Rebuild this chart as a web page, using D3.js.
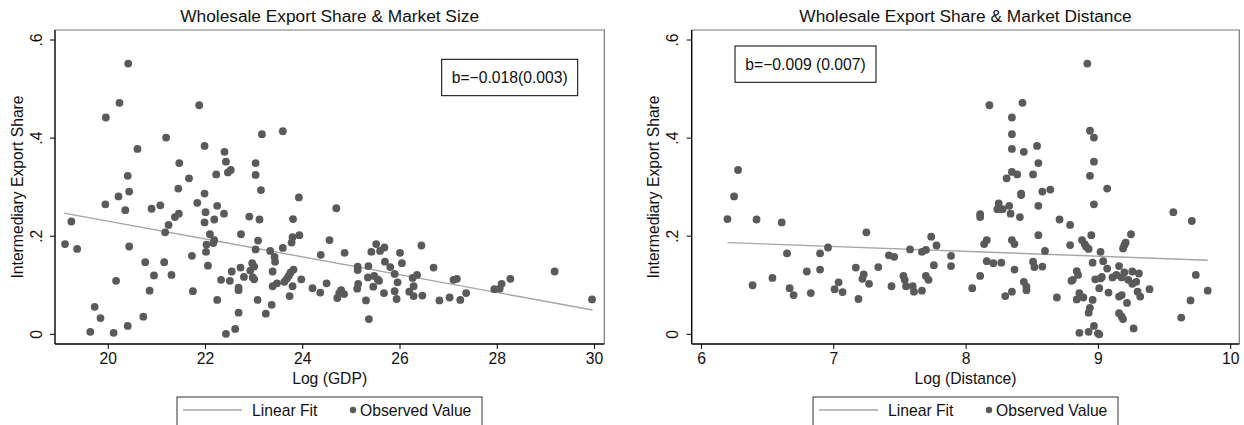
<!DOCTYPE html>
<html>
<head>
<meta charset="utf-8">
<script src="https://cdn.jsdelivr.net/npm/d3@7"></script>
<style>
  body { margin: 0; background: #fff; }
  svg text { font-family: "Liberation Sans", Arial, sans-serif; fill: #111; }
</style>
</head>
<body>
<div id="chart"></div>
<script>
const gdpX = [20.42,20.24,19.96,21.20,20.61,21.88,21.99,21.47,21.67,20.41,20.44,20.22,21.45,21.99,22.40,22.43,22.23,22.47,22.53,23.17,
  23.60,23.04,23.04,23.15,23.93,19.12,19.25,19.37,19.95,20.36,20.44,20.17,19.73,19.85,19.64,20.12,20.41,20.73,20.86,20.77,
  20.95,20.90,21.08,21.16,21.31,21.18,21.25,21.38,21.46,21.73,21.75,21.84,22.01,21.99,22.10,22.03,22.17,22.19,22.02,22.06,
  22.25,22.19,22.39,22.25,22.33,22.51,22.55,22.43,22.62,22.69,22.69,22.69,22.73,22.74,22.80,22.91,22.93,22.97,23.01,22.98,
  23.01,23.08,23.04,23.09,23.12,23.25,23.37,23.34,23.43,23.44,23.39,23.39,23.48,23.60,23.63,23.68,23.72,23.76,23.82,23.74,
  23.80,23.78,23.80,23.81,23.94,23.98,24.21,24.37,24.38,24.70,24.56,24.50,24.72,24.76,24.80,24.86,24.87,25.14,25.14,25.15,
  25.13,25.31,25.37,25.36,25.35,25.48,25.55,25.58,25.46,25.42,25.52,25.60,25.69,25.70,25.81,25.68,25.90,25.96,25.90,25.94,
  26.01,26.05,26.27,26.36,26.29,26.20,26.29,26.47,26.45,26.70,26.82,27.03,27.11,27.18,27.25,27.37,27.95,28.06,28.10,28.28,
  29.19,29.96];
const gdpY = [0.552,0.472,0.442,0.401,0.378,0.467,0.384,0.349,0.318,0.323,0.291,0.281,0.297,0.287,0.372,0.352,0.326,0.330,0.335,0.408,
  0.414,0.349,0.325,0.294,0.279,0.184,0.230,0.174,0.265,0.253,0.179,0.109,0.056,0.033,0.005,0.003,0.017,0.036,0.089,0.147,
  0.120,0.256,0.263,0.147,0.121,0.208,0.223,0.239,0.246,0.160,0.088,0.268,0.249,0.228,0.204,0.183,0.186,0.192,0.168,0.140,
  0.262,0.234,0.246,0.070,0.111,0.109,0.128,0.001,0.011,0.044,0.090,0.095,0.136,0.204,0.117,0.240,0.130,0.145,0.138,0.116,
  0.112,0.070,0.173,0.191,0.234,0.042,0.060,0.170,0.158,0.148,0.128,0.098,0.104,0.176,0.107,0.113,0.119,0.126,0.132,0.078,
  0.098,0.187,0.198,0.235,0.202,0.112,0.094,0.085,0.162,0.257,0.192,0.104,0.074,0.084,0.090,0.082,0.166,0.138,0.131,0.103,
  0.093,0.069,0.031,0.139,0.116,0.119,0.112,0.109,0.097,0.168,0.184,0.170,0.177,0.148,0.137,0.084,0.123,0.106,0.088,0.072,
  0.166,0.145,0.115,0.121,0.098,0.087,0.078,0.079,0.181,0.136,0.069,0.075,0.111,0.113,0.070,0.084,0.092,0.093,0.103,0.113,
  0.128,0.071];

const distX = [6.28,6.25,8.92,8.18,8.43,8.35,8.35,8.94,8.97,8.35,8.44,8.54,8.55,8.97,8.35,8.39,8.31,8.51,8.94,9.07,
  8.42,8.42,8.58,8.64,6.20,6.42,6.61,6.39,6.54,6.65,6.67,6.70,6.80,6.83,6.90,6.90,6.96,7.01,7.04,7.07,
  7.17,7.19,7.23,7.22,7.25,7.27,7.34,7.42,7.46,7.44,7.53,7.54,7.55,7.60,7.61,7.67,7.58,7.67,7.70,7.74,
  7.78,7.76,7.70,7.72,7.89,7.89,8.05,8.11,8.11,8.11,8.14,8.16,8.16,8.21,8.27,8.25,8.24,8.28,8.33,8.34,
  8.41,8.55,8.71,8.79,8.97,8.35,8.37,8.37,8.30,8.35,8.44,8.46,8.46,8.55,8.60,8.51,8.52,8.58,8.69,8.79,
  8.88,8.90,8.91,8.93,8.95,9.02,8.96,8.84,8.85,8.81,8.80,8.86,8.89,8.84,8.93,8.94,8.96,8.86,8.93,8.97,
  9.00,9.01,8.98,9.02,9.03,9.01,9.04,9.07,9.08,9.11,9.14,9.16,9.18,9.20,9.23,9.26,9.29,9.19,9.20,9.21,
  9.25,9.26,9.31,9.30,9.32,9.16,9.18,9.22,9.16,9.18,9.19,9.27,9.39,9.57,9.71,9.63,9.70,9.74,9.83];
const distY = [0.335,0.281,0.552,0.467,0.472,0.442,0.408,0.415,0.401,0.378,0.372,0.384,0.349,0.352,0.331,0.326,0.318,0.326,0.323,0.297,
  0.287,0.284,0.291,0.295,0.235,0.234,0.228,0.100,0.115,0.165,0.094,0.080,0.128,0.084,0.165,0.132,0.177,0.092,0.106,0.086,
  0.136,0.072,0.122,0.113,0.208,0.103,0.137,0.161,0.158,0.098,0.119,0.111,0.098,0.098,0.087,0.089,0.173,0.168,0.172,0.199,
  0.181,0.141,0.119,0.111,0.160,0.139,0.094,0.119,0.245,0.239,0.184,0.192,0.149,0.145,0.146,0.267,0.255,0.255,0.262,0.246,
  0.239,0.262,0.234,0.223,0.265,0.192,0.184,0.132,0.078,0.087,0.107,0.097,0.090,0.202,0.170,0.148,0.137,0.138,0.075,0.182,
  0.192,0.184,0.179,0.174,0.202,0.168,0.146,0.129,0.121,0.111,0.109,0.084,0.075,0.071,0.044,0.054,0.070,0.003,0.005,0.017,
  0.002,0.000,0.112,0.114,0.117,0.094,0.149,0.134,0.085,0.116,0.121,0.139,0.116,0.126,0.111,0.103,0.107,0.175,0.182,0.187,
  0.204,0.128,0.124,0.087,0.077,0.077,0.080,0.064,0.043,0.036,0.031,0.012,0.092,0.249,0.231,0.034,0.069,0.121,0.089];

// fitted lines (end points)
const gdpFit = [[19.1, 0.247], [29.97, 0.0495]];
const distFit = [[6.2, 0.187], [9.83, 0.151]];

const gdpTicks = [20, 22, 24, 26, 28, 30];
const distTicks = [6, 7, 8, 9, 10];
const yTicks = [0, 0.2, 0.4, 0.6];
const yTickLabels = ["0", ".2", ".4", ".6"];

const titles = ["Wholesale Export Share & Market Size", "Wholesale Export Share & Market Distance"];
const xTitles = ["Log (GDP)", "Log (Distance)"];
const yTitle = "Intermediary Export Share";
const notes = ["b=\u22120.018(0.003)", "b=\u22120.009 (0.007)"];

const labelSize = 15.7;
const titleSize = 17.3;

const svg = d3.select("#chart").append("svg")
    .attr("width", 1244)
    .attr("height", 425);

function drawPanel(p) {
    const g = svg.append("g");
    const x = d3.scaleLinear().domain(p.xDomain).range(p.xRange);
    const y = d3.scaleLinear().domain([0, 0.6]).range([334.3, 40]);

    // plot region outline (top / right in grey)
    g.append("path")
        .attr("d", `M${p.left},${p.top}H${p.right}V${p.bottom}`)
        .attr("fill", "none")
        .attr("stroke", "#777")
        .attr("stroke-width", 1.2);

    // axes
    g.append("g")
        .attr("transform", `translate(0,${p.bottom})`)
        .call(d3.axisBottom(x).tickValues(p.ticks).tickSize(5).tickPadding(4).tickFormat(d3.format("d")))
        .call(a => a.select(".domain").attr("d", `M${p.left},0H${p.right}`).attr("stroke", "#000").attr("stroke-width", 1.4))
        .call(a => a.selectAll(".tick line").attr("stroke", "#000"))
        .call(a => a.selectAll(".tick text").attr("font-size", labelSize).attr("fill", "#111")
            .style("font-family", "Liberation Sans, Arial, sans-serif"));

    g.append("line")
        .attr("x1", p.left).attr("x2", p.left)
        .attr("y1", p.top).attr("y2", p.bottom)
        .attr("stroke", "#000").attr("stroke-width", 1.4);

    g.selectAll(".ytick")
        .data(yTicks)
        .enter()
        .append("line")
        .attr("x1", p.left - 5).attr("x2", p.left)
        .attr("y1", d => y(d)).attr("y2", d => y(d))
        .attr("stroke", "#000");

    g.selectAll(".ylab")
        .data(yTicks)
        .enter()
        .append("text")
        .attr("transform", (d) => "translate(" + p.yLabX + "," + y(d) + ") rotate(-90)")
        .attr("text-anchor", "middle")
        .attr("font-size", labelSize)
        .text((d, i) => yTickLabels[i]);

    g.append("text")
        .attr("transform", "translate(" + p.yTitleX + "," + (p.top + p.bottom) / 2 + ") rotate(-90)")
        .attr("text-anchor", "middle")
        .attr("font-size", labelSize)
        .text(yTitle);

    g.append("text")
        .attr("x", (p.left + p.right) / 2)
        .attr("y", 384)
        .attr("text-anchor", "middle")
        .attr("font-size", labelSize)
        .text(p.xTitle);

    g.append("text")
        .attr("x", (p.left + p.right) / 2)
        .attr("y", 22)
        .attr("text-anchor", "middle")
        .attr("font-size", titleSize)
        .text(p.title);

    // fit line
    g.append("path")
        .attr("d", d3.line().x(d => x(d[0])).y(d => y(d[1]))(p.fit))
        .attr("fill", "none")
        .attr("stroke", "#a6a6a6")
        .attr("stroke-width", 1.4);

    // points
    g.selectAll("circle")
        .data(p.xs)
        .enter()
        .append("circle")
        .attr("cx", d => x(d))
        .attr("cy", (d, i) => y(p.ys[i]))
        .attr("r", 3.9)
        .attr("fill", "#5a5a5a");

    // coefficient box
    g.append("rect")
        .attr("x", p.note[0]).attr("y", p.note[1])
        .attr("width", p.note[2]).attr("height", p.note[3])
        .attr("fill", "#fff").attr("stroke", "#000").attr("stroke-width", 1);
    g.append("text")
        .attr("x", p.note[0] + p.note[2] / 2)
        .attr("y", p.note[1] + 24)
        .attr("text-anchor", "middle")
        .attr("font-size", labelSize)
        .text(p.noteText);

    // legend
    const lg = g.append("g").attr("transform", `translate(${p.legendX},397)`);
    lg.append("rect")
        .attr("width", 305).attr("height", 40)
        .attr("fill", "#fff").attr("stroke", "#333").attr("stroke-width", 1);
    lg.append("line")
        .attr("x1", 6).attr("x2", 65).attr("y1", 13).attr("y2", 13)
        .attr("stroke", "#a6a6a6").attr("stroke-width", 1.4);
    lg.append("text").attr("x", 75).attr("y", 18.5).attr("font-size", labelSize).text("Linear Fit");
    lg.append("circle").attr("cx", 176).attr("cy", 13).attr("r", 3.2).attr("fill", "#5a5a5a");
    lg.append("text").attr("x", 183).attr("y", 18.5).attr("font-size", labelSize).text("Observed Value");
}

drawPanel({
    left: 55, right: 604.3, top: 30, bottom: 344,
    xDomain: [20, 30], xRange: [107.8, 594], ticks: gdpTicks,
    yLabX: 42, yTitleX: 23,
    title: titles[0], xTitle: xTitles[0],
    fit: gdpFit, xs: gdpX, ys: gdpY,
    note: [441.7, 59.3, 136, 36.4], noteText: notes[0],
    legendX: 177
});

drawPanel({
    left: 691.7, right: 1239.3, top: 30, bottom: 344,
    xDomain: [6, 10], xRange: [701, 1230.2], ticks: distTicks,
    yLabX: 678, yTitleX: 659,
    title: titles[1], xTitle: xTitles[1],
    fit: distFit, xs: distX, ys: distY,
    note: [735, 46, 141, 36.3], noteText: notes[1],
    legendX: 813
});
</script>
</body>
</html>
